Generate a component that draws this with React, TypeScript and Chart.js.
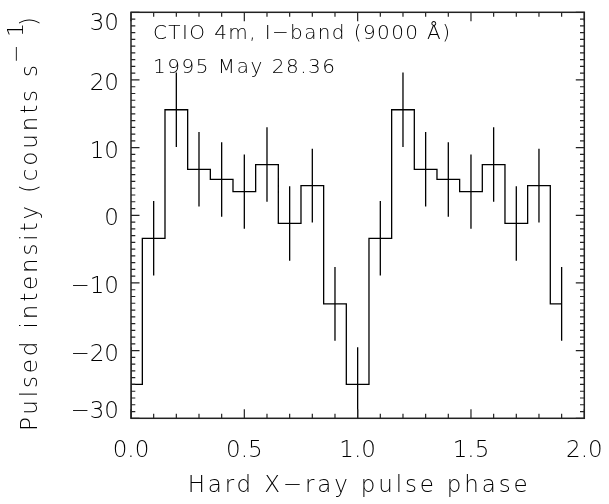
import { useEffect, useRef } from "react";
import { Chart, registerables } from "chart.js";

Chart.register(...registerables);

// ---- data ----
const phases = [0.0, 0.1, 0.2, 0.3, 0.4, 0.5, 0.6, 0.7, 0.8, 0.9, 1.0, 1.1, 1.2, 1.3, 1.4, 1.5, 1.6, 1.7, 1.8, 1.9];
const intensity = [-25, -3.4, 15.6, 6.8, 5.3, 3.5, 7.5, -1.2, 4.4, -13.1, -25, -3.4, 15.6, 6.8, 5.3, 3.5, 7.5, -1.2, 4.4, -13.1];
const errors = [5.5, 5.5, 5.5, 5.5, 5.5, 5.5, 5.5, 5.5, 5.45, 5.45, 5.5, 5.5, 5.5, 5.5, 5.5, 5.5, 5.5, 5.5, 5.45, 5.45];

const xMajorTicks = [0, 0.5, 1.0, 1.5, 2.0];
const xTickLabels = ["0.0", "0.5", "1.0", "1.5", "2.0"];
const yMajorTicks = [-30, -20, -10, 0, 10, 20, 30];
const yTickLabels = ["\u221230", "\u221220", "\u221210", "0", "10", "20", "30"];
const xMinorStep = 0.1;
const yMinorStep = 1;

const xTitle = "Hard X\u2212ray pulse phase";
const yTitleMain = "Pulsed intensity (counts s";
const yTitleSup = "\u22121";
const yTitleEnd = ")";
const noteLine1 = "CTIO 4m, I\u2212band (9000 \u00C5)";
const noteLine2 = "1995 May 28.36";

const FAMILY = "'DejaVu Sans', 'Noto Sans', sans-serif";
const font = (size: number) => `200 ${size}px ${FAMILY}`;

function spacedText(ctx: CanvasRenderingContext2D, text: string, x: number, y: number, target: number) {
  (ctx as any).letterSpacing = "0px";
  const w = ctx.measureText(text).width;
  const ls = (target - w) / Math.max(1, text.length - 1);
  (ctx as any).letterSpacing = `${ls}px`;
  ctx.fillText(text, x, y);
  (ctx as any).letterSpacing = "0px";
}

const decorPlugin = {
  id: "decor",
  afterDatasetsDraw(chart: any) {
    const { ctx, chartArea: a, scales } = chart;
    const xs = scales.x;
    const ys = scales.y;
    ctx.save();

    // error bars
    ctx.save();
    ctx.beginPath();
    ctx.rect(a.left, a.top, a.right - a.left, a.bottom - a.top);
    ctx.clip();
    ctx.strokeStyle = "#000";
    ctx.lineWidth = 1.3;
    for (let i = 0; i < phases.length; i++) {
      const px = xs.getPixelForValue(phases[i]);
      ctx.beginPath();
      ctx.moveTo(px, ys.getPixelForValue(intensity[i] + errors[i]));
      ctx.lineTo(px, ys.getPixelForValue(intensity[i] - errors[i]));
      ctx.stroke();
    }
    ctx.restore();

    // frame
    ctx.strokeStyle = "#222";
    ctx.lineWidth = 1.5;
    ctx.strokeRect(a.left, a.top, a.right - a.left, a.bottom - a.top);

    // ticks
    ctx.lineWidth = 1.2;
    ctx.beginPath();
    const xmin = xs.min, xmax = xs.max;
    const nx = Math.round((xmax - xmin) / xMinorStep);
    for (let k = 0; k <= nx; k++) {
      const v = xmin + k * xMinorStep;
      const major = xMajorTicks.some((t) => Math.abs(t - v) < 1e-6);
      const len = major ? 9 : 4.5;
      const px = xs.getPixelForValue(v);
      ctx.moveTo(px, a.bottom);
      ctx.lineTo(px, a.bottom - len);
      ctx.moveTo(px, a.top);
      ctx.lineTo(px, a.top + len);
    }
    const ymin = ys.min, ymax = ys.max;
    const ny = Math.round((ymax - ymin) / yMinorStep);
    for (let k = 0; k <= ny; k++) {
      const v = ymin + k * yMinorStep;
      const major = yMajorTicks.some((t) => Math.abs(t - v) < 1e-6);
      const len = major ? 8.5 : 4.3;
      const py = ys.getPixelForValue(v);
      ctx.moveTo(a.left, py);
      ctx.lineTo(a.left + len, py);
      ctx.moveTo(a.right, py);
      ctx.lineTo(a.right - len, py);
    }
    ctx.stroke();

    // tick labels
    ctx.fillStyle = "#000";
    ctx.font = font(23);
    ctx.textBaseline = "alphabetic";
    ctx.textAlign = "right";
    for (let i = 0; i < yMajorTicks.length; i++) {
      const py = ys.getPixelForValue(yMajorTicks[i]);
      let base = py + 10;
      if (i === yMajorTicks.length - 1) base = py + 17.7;
      if (i === 0) base = py;
      ctx.fillText(yTickLabels[i], a.left - 12, base);
    }
    ctx.textAlign = "center";
    for (let i = 0; i < xMajorTicks.length; i++) {
      const px = xs.getPixelForValue(xMajorTicks[i]);
      ctx.fillText(xTickLabels[i], px, a.bottom + 38.7);
    }

    // x title
    ctx.textAlign = "left";
    const cx = (a.left + a.right) / 2;
    spacedText(ctx, xTitle, cx - 170, 492, 340);

    // notes
    ctx.font = font(20);
    spacedText(ctx, noteLine1, a.left + 22, 39, 297);
    spacedText(ctx, noteLine2, a.left + 22, 73, 182);

    // y title (rotated)
    ctx.save();
    ctx.translate(37, 431);
    ctx.rotate(-Math.PI / 2);
    ctx.font = font(23);
    ctx.textAlign = "left";
    spacedText(ctx, yTitleMain, 0, 0, 366);
    ctx.font = font(22);
    spacedText(ctx, yTitleSup, 368, -14, 40);
    ctx.font = font(23);
    ctx.fillText(yTitleEnd, 405, 0);
    ctx.restore();

    ctx.restore();
  },
};

export default function App() {
  const ref = useRef<HTMLCanvasElement | null>(null);
  useEffect(() => {
    if (!ref.current) return;
    const chart = new Chart(ref.current, {
      type: "line",
      data: {
        datasets: [
          {
            data: phases.map((p, i) => ({ x: p, y: intensity[i] })),
            stepped: "middle",
            borderColor: "#000",
            borderWidth: 1.3,
            pointRadius: 0,
            fill: false,
          },
        ],
      },
      options: {
        animation: false,
        responsive: false,
        events: [],
        layout: { padding: { left: 131, right: 24.7, top: 12.3, bottom: 85.7 } },
        plugins: { legend: { display: false }, tooltip: { enabled: false } },
        scales: {
          x: { type: "linear", min: 0, max: 2, display: false },
          y: { type: "linear", min: -30, max: 30, display: false },
        },
      },
      plugins: [decorPlugin],
    });
    return () => chart.destroy();
  }, []);
  return (
    <div style={{ position: "absolute", left: 0, top: 0, width: 609, height: 504, background: "#fff" }}>
      <canvas ref={ref} width={609} height={504} style={{ width: 609, height: 504, display: "block" }} />
    </div>
  );
}
